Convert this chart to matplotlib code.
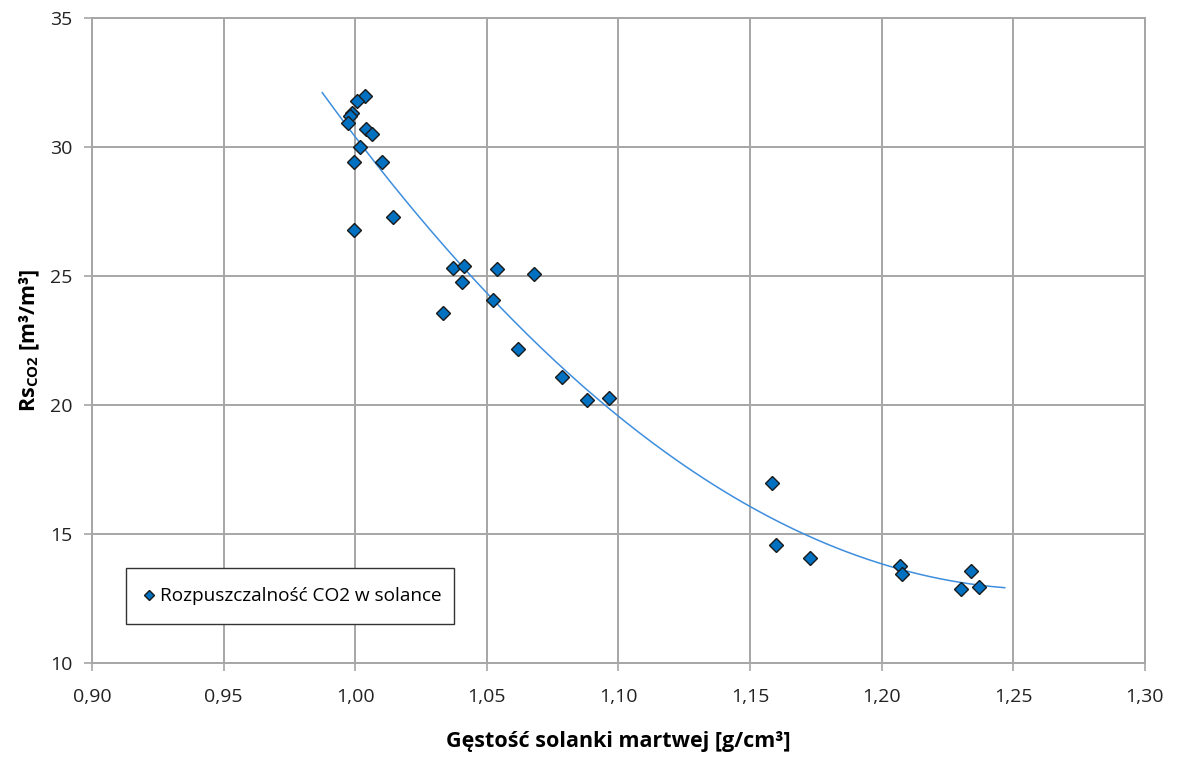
import numpy as np
from matplotlib import pyplot as plt

density = [1.0037, 1.0007, 0.9989, 0.9980, 0.9974, 1.0043, 1.0065, 1.0019, 0.9996, 1.0102,
           1.0145, 0.9996, 1.0373, 1.0415, 1.0537, 1.0679, 1.0406, 1.0524, 1.0335, 1.0620,
           1.0785, 1.0881, 1.0965, 1.1583, 1.1598, 1.1729, 1.2069, 1.2079, 1.2339, 1.2302,
           1.2369]
rs_co2 = [32.00, 31.80, 31.32, 31.21, 30.92, 30.72, 30.52, 29.99, 29.42, 29.42,
          27.31, 26.79, 25.30, 25.40, 25.28, 25.09, 24.78, 24.08, 23.59, 22.18,
          21.09, 20.18, 20.28, 16.96, 14.56, 14.06, 13.76, 13.45, 13.57, 12.87,
          12.96]
trend_range = [0.9875, 1.2468]

x_ticks = [0.90, 0.95, 1.00, 1.05, 1.10, 1.15, 1.20, 1.25, 1.30]
y_ticks = [10, 15, 20, 25, 30, 35]

plt.rcParams['font.family'] = ['Open Sans', 'DejaVu Sans']

fig = plt.figure(figsize=(11.79, 7.62), dpi=100)
ax = fig.add_axes([0.078, 0.130, 0.893, 0.846])

grid_color = '#A6A6A6'
ax.set_axisbelow(True)
ax.grid(True, color=grid_color, linewidth=1.4)

# linia trendu - wielomian 2 stopnia
coef = np.polyfit(density, rs_co2, 2)
xs = np.linspace(trend_range[0], trend_range[1], 200)
ax.plot(xs, np.polyval(coef, xs), color='#3E8EDE', linewidth=1.1, zorder=2)

ax.plot(density, rs_co2, linestyle='none', marker='D', markersize=7,
        markerfacecolor='#0070C0', markeredgecolor='#1A1A1A', markeredgewidth=1.0,
        label='Rozpuszczalność CO2 w solance', zorder=3)

ax.set_xlim(0.90, 1.30)
ax.set_ylim(10, 35)
ax.set_xticks(x_ticks)
ax.set_xticklabels(['{:.2f}'.format(v).replace('.', ',') for v in x_ticks])
ax.set_yticks(y_ticks)

for s in ax.spines.values():
    s.set_color(grid_color)
    s.set_linewidth(1.4)

ax.tick_params(axis='both', colors=grid_color, labelcolor='#222222', labelsize=14,
               length=6, width=1.2, direction='out')
ax.tick_params(axis='x', pad=12)
ax.tick_params(axis='y', pad=8)

ax.set_xlabel('Gęstość solanki martwej [g/cm³]', fontsize=15.5, fontweight='bold', labelpad=18)
ax.set_ylabel('Rs$_{\\mathregular{CO2}}$ [m³/m³]', fontsize=15.5, fontweight='bold', labelpad=6)

leg = ax.legend(loc='lower left', bbox_to_anchor=(0.0323, 0.06, 0.312, 0.088), mode='expand',
                borderaxespad=0, fancybox=False, framealpha=1, fontsize=13.7,
                borderpad=1.0, handlelength=0.4, handletextpad=0.4, markerscale=0.7)
leg.get_frame().set_edgecolor('#333333')
leg.get_frame().set_linewidth(1.0)

fig.savefig('out.png', dpi=100)
